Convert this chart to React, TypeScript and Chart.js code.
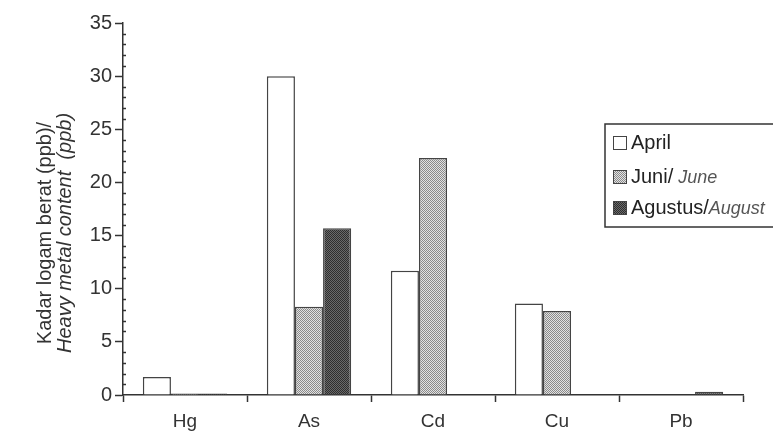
import React, { useEffect, useRef } from "react";
import { Chart, registerables } from "chart.js";

Chart.register(...registerables);

const categories = ["Hg", "As", "Cd", "Cu", "Pb"];
const aprilValues = [1.7, 30, 11.7, 8.6, 0];
const juniValues = [0.15, 8.3, 22.3, 7.9, 0];
const agustusValues = [0.15, 15.7, 0, 0, 0.3];
const seriesLabels = ["April", "Juni/", "Agustus/"];
const seriesLabelsItalic = ["", "June", "August"];
const yTitleLine1 = "Kadar logam berat (ppb)/";
const yTitleLine2 = "Heavy metal content  (ppb)";

const FONT = "'Liberation Sans', Arial, sans-serif";

function makePattern(base: string, dot: string): CanvasPattern | string {
  const c = document.createElement("canvas");
  c.width = 2;
  c.height = 2;
  const g = c.getContext("2d");
  if (!g) return base;
  g.fillStyle = base;
  g.fillRect(0, 0, 2, 2);
  g.fillStyle = dot;
  g.fillRect(0, 0, 1, 1);
  g.fillRect(1, 1, 1, 1);
  const p = g.createPattern(c, "repeat");
  return p || base;
}

export default function App() {
  const ref = useRef<HTMLCanvasElement | null>(null);

  useEffect(() => {
    document.body.style.margin = "0";
    const canvas = ref.current;
    if (!canvas) return;
    const juniFill = makePattern("#e2e2e2", "#8a8a8a");
    const agFill = makePattern("#6a6a6a", "#2e2e2e");
    const fills: any[] = ["#ffffff", juniFill, agFill];

    const decorPlugin = {
      id: "decor",
      afterDraw(chart: any) {
        const ctx = chart.ctx;
        const y = chart.scales.y;
        const area = chart.chartArea;
        ctx.save();
        // minor ticks
        ctx.strokeStyle = "#333";
        ctx.lineWidth = 1.5;
        for (let v = 0; v <= 35; v++) {
          if (v % 5 === 0) continue;
          const py = Math.round(y.getPixelForValue(v)) + 0.5;
          ctx.beginPath();
          ctx.moveTo(area.left - 1, py);
          ctx.lineTo(area.left + 3, py);
          ctx.stroke();
        }
        // y title
        ctx.fillStyle = "#333";
        ctx.textAlign = "center";
        ctx.textBaseline = "middle";
        ctx.translate(45, 233);
        ctx.rotate(-Math.PI / 2);
        ctx.font = "20px " + FONT;
        ctx.fillText(yTitleLine1, 0, 0);
        ctx.font = "italic 20px " + FONT;
        ctx.fillText(yTitleLine2, 0, 20);
        ctx.restore();

        // legend
        ctx.save();
        ctx.strokeStyle = "#333";
        ctx.lineWidth = 1.5;
        ctx.fillStyle = "#ffffff";
        ctx.fillRect(605, 124, 180, 103);
        ctx.strokeRect(605, 124, 180, 103);
        const rows = [143, 177, 208];
        for (let i = 0; i < 3; i++) {
          const cy = rows[i];
          ctx.fillStyle = fills[i];
          ctx.fillRect(613, cy - 7, 14, 14);
          ctx.lineWidth = 1;
          ctx.strokeStyle = "#444";
          ctx.strokeRect(613.5, cy - 6.5, 13, 13);
          ctx.textAlign = "left";
          ctx.textBaseline = "middle";
          ctx.font = "20px " + FONT;
          ctx.fillStyle = "#222";
          ctx.fillText(seriesLabels[i], 631, cy);
          const w = ctx.measureText(seriesLabels[i]).width;
          if (seriesLabelsItalic[i]) {
            ctx.font = "italic 18px " + FONT;
            ctx.fillStyle = "#555";
            ctx.fillText(seriesLabelsItalic[i], 631 + w + (i === 1 ? 5 : 0), cy + 1);
          }
        }
        ctx.restore();
      },
    };

    const mk = (label: string, data: number[], i: number) => ({
      label,
      data,
      backgroundColor: fills[i],
      borderColor: "#444",
      borderWidth: 1.5,
      borderSkipped: "bottom",
      categoryPercentage: 0.68,
      barPercentage: 1.0,
    });

    const chart = new Chart(canvas, {
      type: "bar",
      data: {
        labels: categories,
        datasets: [
          mk(seriesLabels[0], aprilValues, 0),
          mk(seriesLabels[1] + " " + seriesLabelsItalic[1], juniValues, 1),
          mk(seriesLabels[2] + seriesLabelsItalic[2], agustusValues, 2),
        ],
      },
      options: {
        responsive: false,
        animation: false,
        layout: { padding: { left: 0, right: 30, top: 23, bottom: 0 } },
        plugins: {
          legend: { display: false },
          tooltip: { enabled: false },
        },
        scales: {
          x: {
            afterFit: (s: any) => {
              s.height = 40;
            },
            border: { color: "#333", width: 1.5 },
            grid: {
              offset: true,
              drawOnChartArea: false,
              tickLength: 7,
              tickColor: "#333",
              tickWidth: 1.5,
            },
            ticks: {
              color: "#333",
              font: { family: FONT, size: 19 },
              padding: 8,
            },
          },
          y: {
            min: 0,
            max: 35,
            afterFit: (s: any) => {
              s.width = 123;
            },
            border: { color: "#333", width: 1.5 },
            grid: {
              drawOnChartArea: false,
              tickLength: 8,
              tickColor: (c: any) => (c.tick && c.tick.value % 5 === 0 ? "#333" : "rgba(0,0,0,0)"),
              tickWidth: 1.5,
            },
            ticks: {
              stepSize: 1,
              autoSkip: false,
              color: "#333",
              font: { family: FONT, size: 20 },
              padding: 3,
              callback: (v: any) => (Number(v) % 5 === 0 ? String(v) : ""),
            },
          },
        },
      },
      plugins: [decorPlugin],
    } as any);

    return () => chart.destroy();
  }, []);

  return (
    <div style={{ width: 773, height: 435, background: "#fff" }}>
      <canvas ref={ref} width={773} height={435} />
    </div>
  );
}
